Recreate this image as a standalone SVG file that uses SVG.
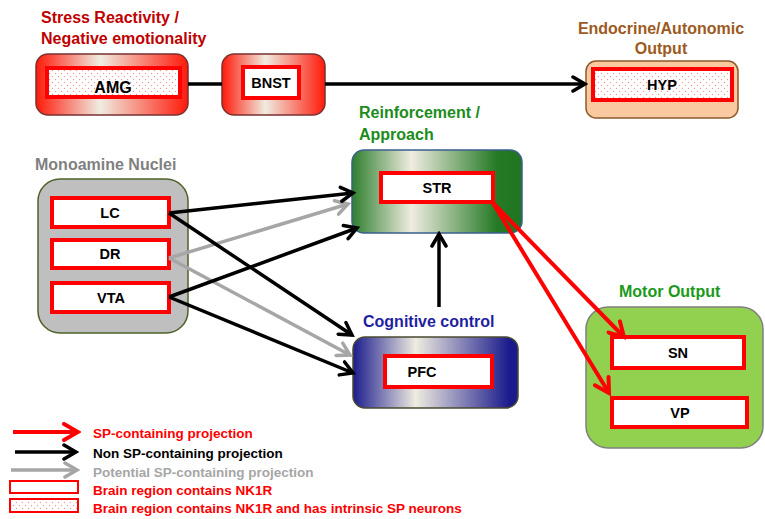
<svg xmlns="http://www.w3.org/2000/svg" width="765" height="519" viewBox="0 0 765 519">
<defs>
<style>
text{font-family:"Liberation Sans",Arial,sans-serif;font-weight:bold}
.t{font-size:16px}
.lbl{font-size:14.5px;fill:#000;text-anchor:middle}
.lg{font-size:13.5px}
.inner{fill:#fff;stroke:#ff0000;stroke-width:4}
.dot{fill:url(#dots);stroke:#ff0000;stroke-width:4}
.k{stroke:#000;stroke-width:3.5;fill:none}
.g{stroke:#a6a6a6;stroke-width:3.5;fill:none}
.r{stroke:#ff0000;stroke-width:4;fill:none}
</style>
<pattern id="dots" patternUnits="userSpaceOnUse" width="6" height="6">
<rect width="6" height="6" fill="#fff"/>
<circle cx="1.5" cy="1.5" r="0.7" fill="#f29a9a"/>
<circle cx="4.5" cy="4.5" r="0.7" fill="#f29a9a"/>
</pattern>
<linearGradient id="gRed" x1="0" x2="1" y1="0" y2="0">
<stop offset="0" stop-color="#ff1a0a"/><stop offset="0.42" stop-color="#efece0"/><stop offset="1" stop-color="#ff1a0a"/>
</linearGradient>
<linearGradient id="gGreen" x1="0" x2="1" y1="0" y2="0">
<stop offset="0" stop-color="#2e7f2e"/><stop offset="0.35" stop-color="#efece0"/><stop offset="0.85" stop-color="#267a26"/><stop offset="1" stop-color="#1f761f"/>
</linearGradient>
<linearGradient id="gBlue" x1="0" x2="1" y1="0" y2="0">
<stop offset="0" stop-color="#1c1c8e"/><stop offset="0.38" stop-color="#efece0"/><stop offset="0.95" stop-color="#1a1a8c"/><stop offset="1" stop-color="#1a1a8c"/>
</linearGradient>
<marker id="aK" markerUnits="userSpaceOnUse" viewBox="0 0 18 18" markerWidth="18" markerHeight="18" refX="15" refY="9" orient="auto">
<path d="M3,2 L15,9 L3,16" fill="none" stroke="#000" stroke-width="3.5" stroke-linecap="round" stroke-linejoin="miter"/>
</marker>
<marker id="aG" markerUnits="userSpaceOnUse" viewBox="0 0 18 18" markerWidth="18" markerHeight="18" refX="15" refY="9" orient="auto">
<path d="M3,2 L15,9 L3,16" fill="none" stroke="#a6a6a6" stroke-width="3.5" stroke-linecap="round"/>
</marker>
<marker id="aR" markerUnits="userSpaceOnUse" viewBox="0 0 20 20" markerWidth="20" markerHeight="20" refX="17" refY="10" orient="auto">
<path d="M3,2 L17,10 L3,18" fill="none" stroke="#ff0000" stroke-width="4" stroke-linecap="round"/>
</marker>
</defs>

<g id="title-stress">
<text class="t" x="41" y="23" fill="#c00000">Stress Reactivity /</text>
<text class="t" x="41" y="44" fill="#c00000">Negative emotionality</text>
</g>
<g id="node-AMG">
<rect x="36" y="54" width="152" height="61" rx="12" fill="url(#gRed)" stroke="#7a3030" stroke-width="1.5"/>
<rect class="dot" x="47" y="68" width="133" height="29"/>
<text class="lbl" x="113" y="93" style="font-size:16px">AMG</text>
</g>
<g id="node-BNST">
<rect x="222" y="54" width="103" height="61" rx="12" fill="url(#gRed)" stroke="#7a3030" stroke-width="1.5"/>
<rect class="inner" x="243" y="67" width="56" height="31"/>
<text class="lbl" x="271" y="88">BNST</text>
</g>
<g id="node-HYP">
<text class="t" x="661" y="34" fill="#9c5a1e" text-anchor="middle">Endocrine/Autonomic</text>
<text class="t" x="661" y="54" fill="#9c5a1e" text-anchor="middle">Output</text>
<rect x="586" y="61" width="152" height="57" rx="10" fill="#fac9a0" stroke="#8c5a2b" stroke-width="1.5"/>
<rect class="dot" x="593" y="69" width="139" height="31"/>
<text class="lbl" x="662" y="90">HYP</text>
</g>
<g id="node-STR">
<text class="t" x="359" y="118" fill="#1b8c1b">Reinforcement /</text>
<text class="t" x="359" y="140" fill="#1b8c1b">Approach</text>
<rect x="352" y="150" width="170" height="83" rx="12" fill="url(#gGreen)" stroke="#3a5f8f" stroke-width="1.5"/>
<rect class="inner" x="381" y="173" width="112" height="29"/>
<text class="lbl" x="437" y="193">STR</text>
</g>
<g id="node-monoamine">
<text class="t" x="35" y="170" fill="#7f7f7f">Monoamine Nuclei</text>
<rect x="38" y="179" width="150" height="154" rx="22" fill="#bfbfbf" stroke="#4f6228" stroke-width="1.5"/>
</g>
<g id="node-LC">
<rect class="inner" x="52" y="198" width="117" height="29"/>
<text class="lbl" x="110" y="218">LC</text>
</g>
<g id="node-DR">
<rect class="inner" x="52" y="240" width="117" height="28"/>
<text class="lbl" x="110" y="259">DR</text>
</g>
<g id="node-VTA">
<rect class="inner" x="52" y="283" width="117" height="29"/>
<text class="lbl" x="111" y="303">VTA</text>
</g>
<g id="node-PFC">
<text class="t" x="363" y="327" fill="#1f1fa0">Cognitive control</text>
<rect x="353" y="337" width="165" height="71" rx="12" fill="url(#gBlue)" stroke="#4a4a30" stroke-width="1.5"/>
<rect class="inner" x="385" y="356" width="107" height="31"/>
<text class="lbl" x="422" y="377">PFC</text>
</g>
<g id="node-motor">
<text class="t" x="619" y="297" fill="#1b9a1b">Motor Output</text>
<rect x="586" y="307" width="177" height="141" rx="22" fill="#92d050" stroke="#7f7f7f" stroke-width="1.5"/>
</g>
<g id="node-SN">
<rect class="inner" x="612" y="337" width="132" height="31"/>
<text class="lbl" x="678" y="358">SN</text>
</g>
<g id="node-VP">
<rect class="inner" x="612" y="398" width="135" height="29"/>
<text class="lbl" x="680" y="418">VP</text>
</g>

<g id="connectors">
<line class="k" x1="188" y1="84" x2="222" y2="84"/>
<line class="k" x1="325" y1="84" x2="585" y2="84" marker-end="url(#aK)"/>
<line class="g" x1="169" y1="258" x2="348" y2="204" marker-end="url(#aG)"/>
<line class="g" x1="169" y1="258" x2="350" y2="355" marker-end="url(#aG)"/>
<line class="k" x1="169" y1="213" x2="353" y2="193" marker-end="url(#aK)"/>
<line class="k" x1="169" y1="213" x2="352" y2="335" marker-end="url(#aK)"/>
<line class="k" x1="169" y1="297" x2="357" y2="228" marker-end="url(#aK)"/>
<line class="k" x1="169" y1="297" x2="353" y2="373" marker-end="url(#aK)"/>
<line class="k" x1="439" y1="307" x2="439" y2="234" marker-end="url(#aK)"/>
<line class="r" x1="493" y1="203" x2="624" y2="337" marker-end="url(#aR)"/>
<line class="r" x1="493" y1="203" x2="609" y2="393" marker-end="url(#aR)"/>
</g>

<g id="legend">
<line class="r" x1="13" y1="432" x2="78" y2="432" marker-end="url(#aR)"/>
<text class="lg" x="93" y="438" fill="#ff0000">SP-containing projection</text>
<line class="k" x1="15" y1="452" x2="76" y2="452" marker-end="url(#aK)"/>
<text class="lg" x="93" y="458" fill="#000">Non SP-containing projection</text>
<line class="g" x1="11" y1="470" x2="77" y2="470" marker-end="url(#aG)"/>
<text class="lg" x="93" y="477" fill="#a6a6a6">Potential SP-containing projection</text>
<rect x="10" y="481" width="68" height="12" fill="#fff" stroke="#ff0000" stroke-width="2"/>
<text class="lg" x="93" y="495" fill="#ff0000">Brain region contains NK1R</text>
<rect x="10" y="499" width="68" height="13" fill="url(#dots)" stroke="#ff0000" stroke-width="2"/>
<text class="lg" x="93" y="513" fill="#ff0000">Brain region contains NK1R and has intrinsic SP neurons</text>
</g>
</svg>
